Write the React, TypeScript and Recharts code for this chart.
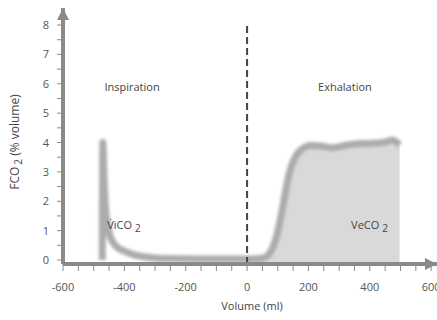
import {
  ComposedChart,
  Line,
  Area,
  XAxis,
  YAxis,
  ReferenceLine,
  ReferenceDot,
  Label,
} from "recharts";

// capnogram: FCO2 against expired / inspired volume
const volume = [
  -472, -470, -467, -463, -458, -450, -440, -425, -400, -370, -330, -300, -250, -200, -100, 0,
  40, 60, 75, 90, 105, 117, 130, 140, 152, 166, 185, 205, 240, 280, 320, 358, 400, 442, 475, 497,
];
const fco2 = [
  0, 4.0, 3.0, 2.0, 1.4, 0.95, 0.65, 0.45, 0.3, 0.18, 0.1, 0.07, 0.05, 0.04, 0.03, 0.03,
  0.05, 0.1, 0.25, 0.6, 1.2, 1.85, 2.6, 3.05, 3.4, 3.65, 3.82, 3.9, 3.88, 3.82, 3.9, 3.96, 3.97, 4.0, 4.08, 3.92,
];

const xTicks = [
  -600, -550, -500, -450, -400, -350, -300, -250, -200, -150, -100, -50, 0,
  50, 100, 150, 200, 250, 300, 350, 400, 450, 500, 550, 600,
];
const yTicks = [0, 0.5, 1, 1.5, 2, 2.5, 3, 3.5, 4, 4.5, 5, 5.5, 6, 6.5, 7, 7.5, 8];

const FONT = "'Open Sans', sans-serif";
const AXIS = "#8a8a8a";
const TEXT = "#555";

const data = volume.map((v, i) => ({
  volume: v,
  fco2: fco2[i],
  veco2: v >= 0 ? fco2[i] : null,
}));

const XTick = ({ x, y, payload }: any) =>
  payload.value % 200 === 0 ? (
    <text x={x} y={y} dy={11} textAnchor="middle" fontSize={11} fontFamily={FONT} fill={TEXT}>
      {payload.value}
    </text>
  ) : (
    <g />
  );

const YTick = ({ x, y, payload }: any) =>
  Number.isInteger(payload.value) ? (
    <text x={x} y={y} dy={4} textAnchor="end" fontSize={11} fontFamily={FONT} fill={TEXT}>
      {payload.value}
    </text>
  ) : (
    <g />
  );

const textLabel = (txt: string, sub?: string) => ({ viewBox }: any) => (
  <text
    x={viewBox.x}
    y={viewBox.y}
    textAnchor={sub ? "start" : "middle"}
    fontSize={11}
    fontFamily={FONT}
    fill="#444"
  >
    {txt}
    {sub && (
      <tspan dx={3} dy={3} fontSize={10}>
        {sub}
      </tspan>
    )}
  </text>
);

export default function App() {
  return (
    <div style={{ position: "absolute", left: 0, top: 0, background: "#fff" }}>
      <ComposedChart width={437} height={320} data={data} margin={{ top: 8, right: 0, left: 0, bottom: 0 }}>
        <defs>
          <marker
            id="arrow"
            viewBox="0 0 12 12"
            refX={12}
            refY={6}
            markerWidth={12}
            markerHeight={12}
            markerUnits="userSpaceOnUse"
            orient="auto-start-reverse"
          >
            <path d="M0,0 L12,6 L0,12 z" fill={AXIS} />
          </marker>
          <filter id="soft" x="-10%" y="-10%" width="120%" height="120%">
            <feGaussianBlur stdDeviation={1.8} />
          </filter>
        </defs>
        <XAxis
          dataKey="volume"
          type="number"
          domain={[-600, 619]}
          ticks={xTicks}
          interval={0}
          height={56}
          tickSize={7}
          tickMargin={9}
          tick={<XTick />}
          tickLine={{ stroke: AXIS, strokeWidth: 1 }}
          axisLine={{ stroke: AXIS, strokeWidth: 4, markerEnd: "url(#arrow)" }}
        >
          <Label
            content={() => (
              <text x={252} y={306} dy={4} textAnchor="middle" fontSize={11} fontFamily={FONT} fill="#444">
                Volume (ml)
              </text>
            )}
          />
        </XAxis>
        <YAxis
          type="number"
          domain={[-0.136, 8.58]}
          ticks={yTicks}
          interval={0}
          width={63}
          tickSize={6}
          tickMargin={8}
          tick={<YTick />}
          tickLine={{ stroke: AXIS, strokeWidth: 1 }}
          axisLine={{ stroke: AXIS, strokeWidth: 4, markerStart: "url(#arrow)" }}
        >
          <Label
            content={() => (
              <text
                x={15}
                y={142}
                transform="rotate(-90 15 142)"
                textAnchor="middle"
                dy={4}
                fontSize={12}
                fontFamily={FONT}
                fill="#444"
              >
                FCO
                <tspan dx={2} dy={3} fontSize={10}>2</tspan>
                <tspan dy={-3}> (% volume)</tspan>
              </text>
            )}
          />
        </YAxis>
        <Area
          dataKey="veco2"
          type="monotone"
          fill="#d9d9d9"
          fillOpacity={1}
          stroke="none"
          baseValue="dataMin"
          isAnimationActive={false}
        />
        <Line
          dataKey="fco2"
          type="monotone"
          stroke="#acacac"
          strokeWidth={7}
          dot={false}
          filter="url(#soft)"
          isAnimationActive={false}
        />
        <ReferenceLine
          segment={[
            { x: 0, y: -0.136 },
            { x: 0, y: 8.05 },
          ]}
          stroke="#444"
          strokeWidth={2}
          strokeDasharray="7 4"
          ifOverflow="visible"
        />
        <ReferenceDot x={-375} y={5.75} r={0} ifOverflow="visible" label={textLabel("Inspiration")} />
        <ReferenceDot x={319} y={5.75} r={0} ifOverflow="visible" label={textLabel("Exhalation")} />
        <ReferenceDot x={-456} y={1.05} r={0} ifOverflow="visible" label={textLabel("V\u0307iCO", "2")} />
        <ReferenceDot x={339} y={1.05} r={0} ifOverflow="visible" label={textLabel("VeCO", "2")} />
      </ComposedChart>
    </div>
  );
}
